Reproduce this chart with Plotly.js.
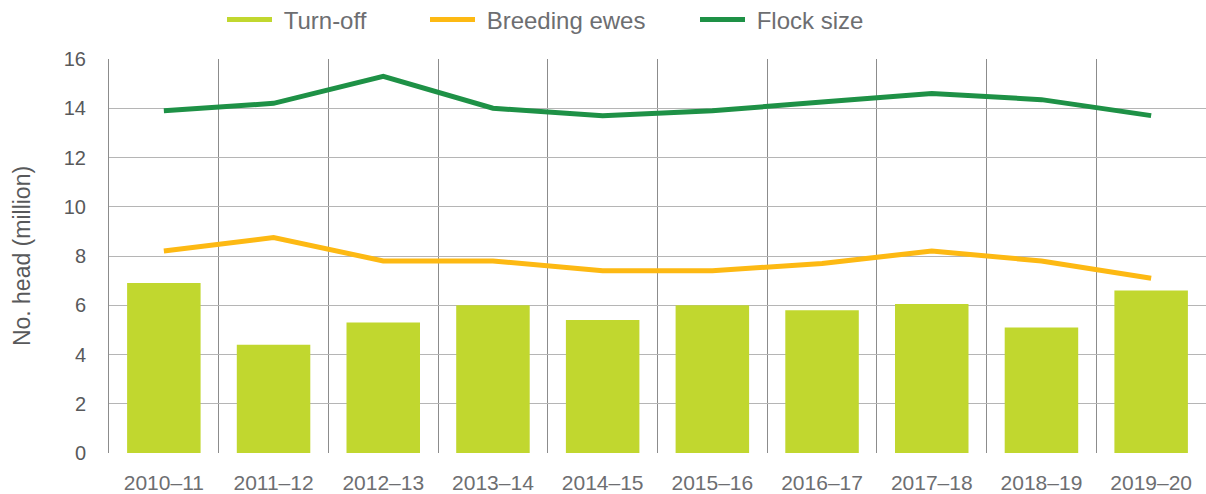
<!DOCTYPE html>
<html>
<head>
<meta charset="utf-8">
<script src="https://cdn.plot.ly/plotly-3.0.1.min.js"></script>
<style>
  html, body { margin: 0; padding: 0; background: #fff; overflow: hidden; }
  #chart { width: 1206px; height: 494px; }
</style>
</head>
<body>
<div id="chart"></div>
<script>
// sheep flock numbers, million head
const seasons = ['2010–11', '2011–12', '2012–13', '2013–14', '2014–15',
                 '2015–16', '2016–17', '2017–18', '2018–19', '2019–20'];
const turnOff = [6.9, 4.4, 5.3, 6.0, 5.4, 6.0, 5.8, 6.05, 5.1, 6.6];
const breedingEwes = [8.2, 8.75, 7.8, 7.8, 7.4, 7.4, 7.7, 8.2, 7.8, 7.1];
const flockSize = [13.9, 14.2, 15.3, 14.0, 13.7, 13.9, 14.25, 14.6, 14.35, 13.7];

const LIME = '#c1d72f';
const GOLD = '#fdb913';
const GREEN = '#1e9146';
const TEXT = '#58595b';
const FONT = 'Liberation Sans, Arial, sans-serif';

// legend-only entries so the swatches are drawn as short lines
function legendEntry(name, color, legendId) {
  return {
    type: 'scatter', mode: 'lines', name: '\u00a0' + name,
    x: [null], y: [null],
    line: { color: color, width: 5 },
    legend: legendId, hoverinfo: 'skip',
  };
}

const traces = [
  {
    type: 'bar', name: 'Turn-off',
    x: seasons, y: turnOff,
    marker: { color: LIME },
    showlegend: false,
  },
  {
    type: 'scatter', mode: 'lines', name: 'Breeding ewes',
    x: seasons, y: breedingEwes,
    line: { color: GOLD, width: 5 },
    showlegend: false,
  },
  {
    type: 'scatter', mode: 'lines', name: 'Flock size',
    x: seasons, y: flockSize,
    line: { color: GREEN, width: 5 },
    showlegend: false,
  },
  legendEntry('Turn-off', LIME, 'legend'),
  legendEntry('Breeding ewes', GOLD, 'legend2'),
  legendEntry('Flock size', GREEN, 'legend3'),
];

const legendBase = {
  orientation: 'h', xref: 'container', yref: 'container',
  yanchor: 'middle', y: 1 - 20 / 494,
  itemwidth: 45,
  font: { family: FONT, size: 24, color: '#6d6e71' },
  bgcolor: 'rgba(0,0,0,0)',
};

const layout = {
  width: 1206, height: 494,
  paper_bgcolor: '#fff', plot_bgcolor: '#fff',
  margin: { l: 109, r: 0, t: 59, b: 41 },
  font: { family: FONT, color: TEXT },
  bargap: 0.33,
  xaxis: {
    type: 'category',
    tickson: 'boundaries',
    ticks: '',
    showgrid: true, gridcolor: '#8c8c8c', gridwidth: 1,
    showline: false,
    zeroline: false,
    tickfont: { family: FONT, size: 21, color: '#6d6e71' },
    ticklabelstandoff: 15,
  },
  yaxis: {
    range: [0, 16], dtick: 2,
    showgrid: true, gridcolor: '#b5b5b5', gridwidth: 1,
    zeroline: false,
    showline: true, linecolor: '#8c8c8c', linewidth: 1,
    ticks: '',
    tickfont: { family: FONT, size: 20, color: TEXT },
    ticklabelstandoff: 18,
    title: { text: 'No. head (million)', font: { family: FONT, size: 23, color: TEXT }, standoff: 26 },
  },
  legend: { ...legendBase, x: 222 / 1206 },
  legend2: { ...legendBase, x: 425 / 1206 },
  legend3: { ...legendBase, x: 695 / 1206 },
};

Plotly.newPlot('chart', traces, layout, { displayModeBar: false, responsive: false });
</script>
</body>
</html>
